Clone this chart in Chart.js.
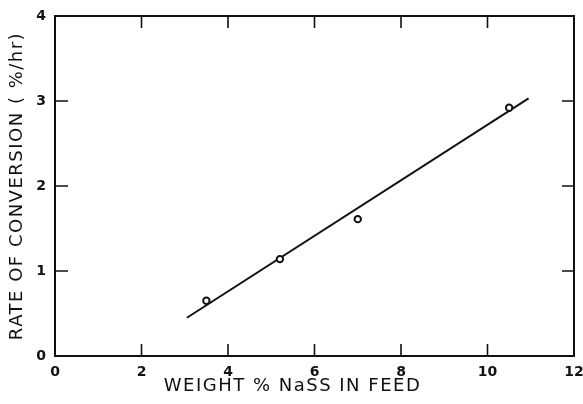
<!DOCTYPE html>
<html>
<head>
<meta charset="utf-8">
<script src="https://cdn.jsdelivr.net/npm/chart.js@4.4.1/dist/chart.umd.min.js"></script>
<style>
  html, body { margin: 0; padding: 0; background: #fff; }
  #wrap { width: 583px; height: 404px; }
</style>
</head>
<body>
<div id="wrap"><canvas id="rateChart" width="583" height="404"></canvas></div>
<script>
// measured points (weight % NaSS vs rate of conversion)
const weightPct = [3.5, 5.2, 7.0, 10.5];
const ratePct = [0.65, 1.14, 1.61, 2.92];
// fitted straight line ends
const fitX = [3.05, 10.95];
const fitY = [0.45, 3.03];
const xTicks = [0, 2, 4, 6, 8, 10, 12];
const yTicks = [0, 1, 2, 3, 4];
const xTitle = "WEIGHT % NaSS IN FEED";
const yTitle = "RATE OF CONVERSION ( %/hr)";

const ink = "#111";
const titleFont = "18px 'DejaVu Sans'";

// inward tick marks, frame and axis titles, like the original plot
const frameTicks = {
  id: "frameTicks",
  afterDraw(chart) {
    const ctx = chart.ctx;
    const a = chart.chartArea;
    const xs = chart.scales.x, ys = chart.scales.y;
    ctx.save();
    ctx.strokeStyle = ink;
    ctx.lineWidth = 2;
    ctx.strokeRect(a.left, a.top, a.right - a.left, a.bottom - a.top);
    ctx.lineWidth = 1.6;
    ctx.beginPath();
    xTicks.slice(1, -1).forEach(v => {
      const px = xs.getPixelForValue(v);
      ctx.moveTo(px, a.bottom); ctx.lineTo(px, a.bottom - 12);
      ctx.moveTo(px, a.top); ctx.lineTo(px, a.top + 12);
    });
    yTicks.slice(1, -1).forEach(v => {
      const py = ys.getPixelForValue(v);
      ctx.moveTo(a.left, py); ctx.lineTo(a.left + 13, py);
      ctx.moveTo(a.right, py); ctx.lineTo(a.right - 12, py);
    });
    ctx.stroke();

    ctx.fillStyle = ink;
    ctx.font = titleFont;
    ctx.letterSpacing = "1.5px";
    ctx.textAlign = "center";
    ctx.textBaseline = "middle";
    ctx.fillText(xTitle, (a.left + a.right) / 2 - 22, a.bottom + 30);
    ctx.translate(17, (a.top + a.bottom) / 2);
    ctx.rotate(-Math.PI / 2);
    ctx.fillText(yTitle, 0, 0);
    ctx.letterSpacing = "0px";
    ctx.restore();
  }
};

new Chart(document.getElementById("rateChart").getContext("2d"), {
  type: "scatter",
  data: {
    datasets: [
      {
        label: "fit",
        data: fitX.map((x, i) => ({ x: x, y: fitY[i] })),
        showLine: true,
        borderColor: ink,
        borderWidth: 2,
        pointRadius: 0,
        order: 2
      },
      {
        label: "data",
        data: weightPct.map((x, i) => ({ x: x, y: ratePct[i] })),
        pointRadius: 3.2,
        pointBorderWidth: 2,
        pointBorderColor: ink,
        pointBackgroundColor: "#fff",
        order: 1
      }
    ]
  },
  plugins: [frameTicks],
  options: {
    responsive: false,
    animation: false,
    layout: { autoPadding: false, padding: { top: 16, right: 9, left: 0, bottom: 0 } },
    plugins: { legend: { display: false }, tooltip: { enabled: false } },
    scales: {
      x: {
        type: "linear",
        min: 0, max: 12,
        afterBuildTicks: s => { s.ticks = xTicks.map(v => ({ value: v })); },
        grid: { display: false, drawTicks: false },
        border: { display: false },
        ticks: {
          color: ink, padding: 8,
          font: { family: "DejaVu Sans", size: 14, weight: "bold" }
        },
        afterFit: s => { s.height = 48; s.paddingLeft = 0; s.paddingRight = 0; }
      },
      y: {
        type: "linear",
        min: 0, max: 4,
        afterBuildTicks: s => { s.ticks = yTicks.map(v => ({ value: v })); },
        grid: { display: false, drawTicks: false },
        border: { display: false },
        ticks: {
          color: ink, padding: 9,
          font: { family: "DejaVu Sans", size: 14, weight: "bold" }
        },
        afterFit: s => { s.width = 55; s.paddingTop = 0; s.paddingBottom = 0; }
      }
    }
  }
});
</script>
</body>
</html>
